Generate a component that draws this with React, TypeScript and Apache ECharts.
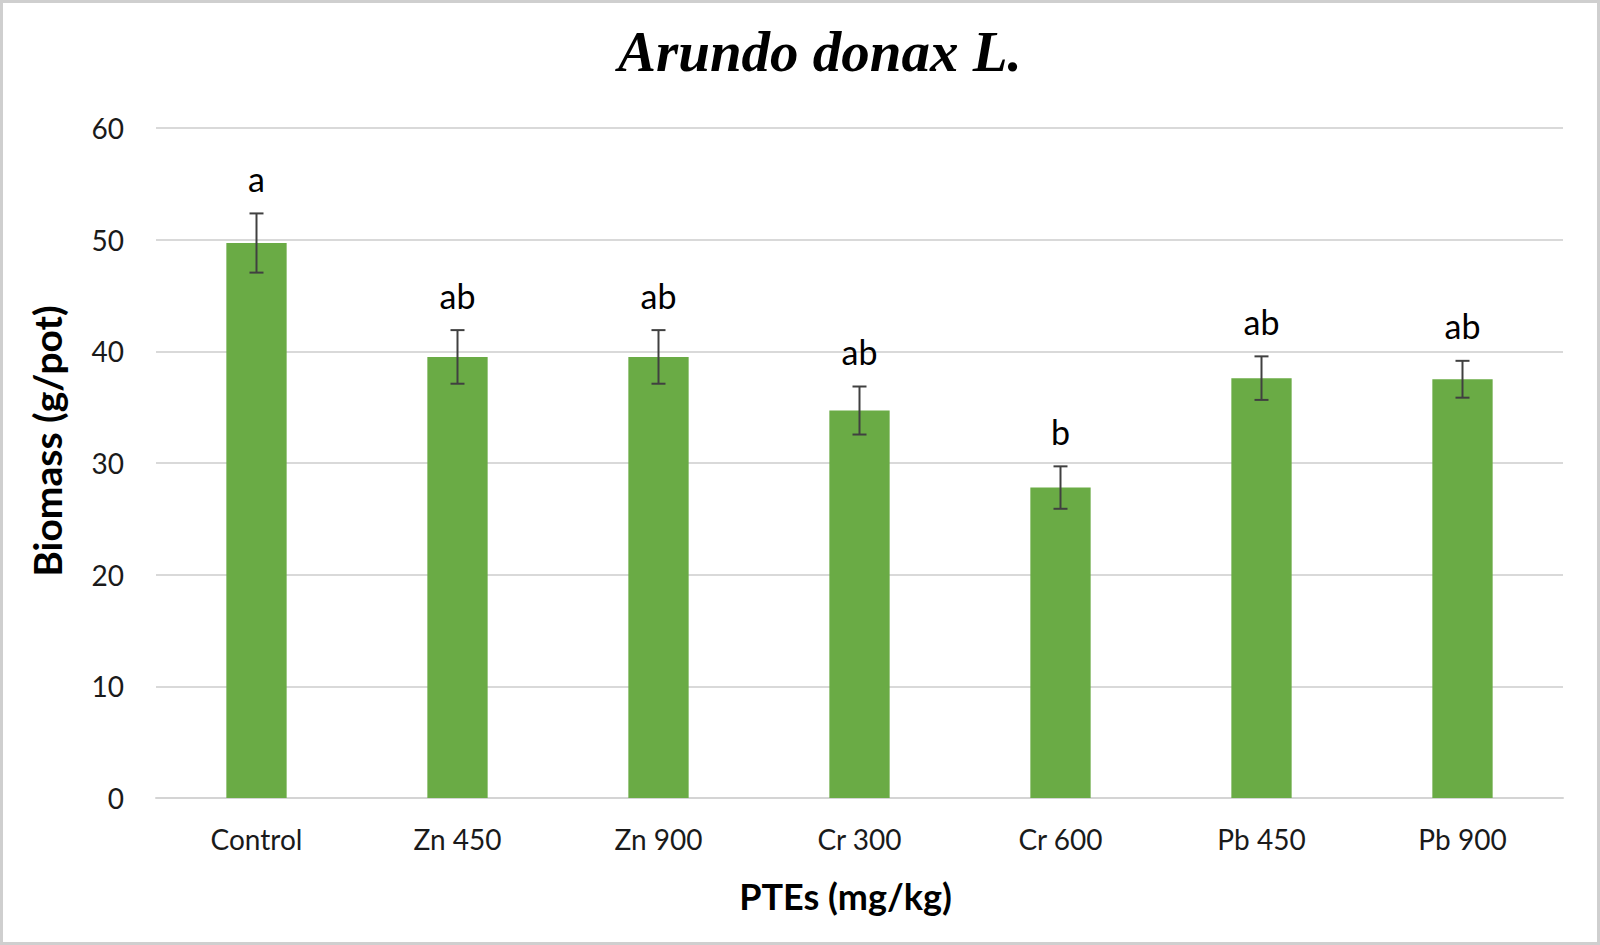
import { useEffect, useRef } from "react";
import * as echarts from "echarts";

const categories = ["Control", "Zn 450", "Zn 900", "Cr 300", "Cr 600", "Pb 450", "Pb 900"];
const biomass = [49.7, 39.5, 39.5, 34.7, 27.8, 37.6, 37.5];
const stdErr = [2.65, 2.4, 2.4, 2.15, 1.9, 1.95, 1.65];
const letters = ["a", "ab", "ab", "ab", "b", "ab", "ab"];
const yTicks = { min: 0, max: 60, interval: 10 };

const SANS = "Lato, 'Open Sans', sans-serif";

export default function App() {
    const chartRef = useRef<HTMLDivElement>(null);

    useEffect(() => {
        if (!chartRef.current) return;
        const chart = echarts.init(chartRef.current, null, { renderer: "svg" });

        const option = {
            animation: false,
            backgroundColor: "#ffffff",
            title: {
                text: "Arundo donax L.",
                left: 610,
                top: 15,
                textStyle: {
                    fontFamily: "'Liberation Serif', 'Times New Roman', serif",
                    fontStyle: "italic",
                    fontWeight: "bold",
                    fontSize: 57,
                    color: "#000",
                },
            },
            grid: { left: 153, right: 34, top: 125, bottom: 144 },
            xAxis: {
                type: "category",
                data: categories,
                name: "PTEs (mg/kg)",
                nameLocation: "middle",
                nameGap: 80,
                nameTextStyle: {
                    fontFamily: SANS,
                    fontWeight: "bold",
                    fontSize: 36,
                    color: "#000",
                    padding: [0, 28, 0, 0],
                },
                axisLine: { lineStyle: { color: "#d4d4d4", width: 2 } },
                axisTick: { show: false },
                axisLabel: { fontFamily: SANS, fontSize: 28, color: "#1a1a1a", margin: 27 },
            },
            yAxis: {
                type: "value",
                ...yTicks,
                name: "Biomass (g/pot)",
                nameLocation: "middle",
                nameGap: 90,
                nameTextStyle: {
                    fontFamily: SANS,
                    fontWeight: "bold",
                    fontSize: 39,
                    color: "#000",
                    padding: [0, 0, 0, 44],
                },
                axisLine: { show: false },
                axisTick: { show: false },
                axisLabel: { fontFamily: SANS, fontSize: 28, color: "#1a1a1a", margin: 32 },
                splitLine: { lineStyle: { color: "#d9d9d9", width: 2 } },
            },
            series: [
                {
                    type: "bar",
                    data: biomass,
                    barWidth: "30%",
                    itemStyle: { color: "#6aab45" },
                },
                {
                    type: "custom",
                    data: biomass.map((v, i) => [i, v, stdErr[i]]),
                    z: 10,
                    renderItem: (params: any, api: any) => {
                        const i = api.value(0);
                        const mean = api.value(1);
                        const err = api.value(2);
                        const hi = api.coord([i, mean + err]);
                        const lo = api.coord([i, mean - err]);
                        const half = 7;
                        const line = { stroke: "#404040", lineWidth: 2 };
                        return {
                            type: "group",
                            children: [
                                { type: "line", shape: { x1: hi[0], y1: hi[1], x2: lo[0], y2: lo[1] }, style: line },
                                { type: "line", shape: { x1: hi[0] - half, y1: hi[1], x2: hi[0] + half, y2: hi[1] }, style: line },
                                { type: "line", shape: { x1: lo[0] - half, y1: lo[1], x2: lo[0] + half, y2: lo[1] }, style: line },
                                {
                                    type: "text",
                                    style: {
                                        text: letters[params.dataIndex],
                                        x: hi[0],
                                        y: hi[1] - 18,
                                        align: "center",
                                        verticalAlign: "bottom",
                                        fontFamily: SANS,
                                        fontSize: 34,
                                        fill: "#000",
                                    },
                                },
                            ],
                        };
                    },
                },
            ],
        };

        chart.setOption(option);
        return () => {
            chart.dispose();
        };
    }, []);

    return (
        <div
            style={{
                position: "fixed",
                left: 0,
                top: 0,
                width: 1600,
                height: 945,
                boxSizing: "border-box",
                border: "3px solid #cfcfcf",
                background: "#fff",
            }}
        >
            <div ref={chartRef} style={{ width: 1594, height: 939 }} />
        </div>
    );
}
